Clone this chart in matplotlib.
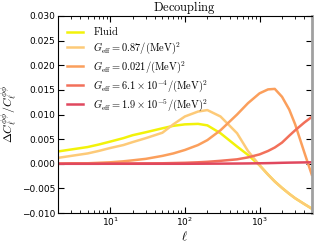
import matplotlib
matplotlib.use("Agg")
import matplotlib.pyplot as plt

plt.rcParams['mathtext.fontset'] = 'cm'

# === Data ===
ell = [2, 3, 5, 7, 10, 15, 20, 30, 50, 70, 100, 150, 200, 300, 500, 700,
       1000, 1300, 1600, 2000, 2500, 3000, 4000, 5000]

fluid = [0.0025, 0.0029, 0.0034, 0.0039, 0.0045, 0.0052, 0.0058, 0.0064, 0.0072, 0.0077,
         0.0080, 0.0081, 0.0078, 0.0062, 0.0035, 0.0018, -0.0003, -0.0022, -0.0036,
         -0.0049, -0.0061, -0.0070, -0.0082, -0.0091]
g_087 = [0.0012, 0.0016, 0.0021, 0.0026, 0.0032, 0.0038, 0.0044, 0.0052, 0.0063, 0.0080,
         0.0096, 0.0106, 0.0109, 0.0096, 0.0062, 0.0026, -0.0003, -0.0022, -0.0036,
         -0.0049, -0.0061, -0.0070, -0.0082, -0.0091]
g_0021 = [0.0000, 0.0001, 0.0001, 0.0002, 0.0003, 0.0005, 0.0007, 0.0010, 0.0016, 0.0021,
          0.0028, 0.0038, 0.0048, 0.0068, 0.0100, 0.0123, 0.0143, 0.0151, 0.0152,
          0.0136, 0.0110, 0.0080, 0.0022, -0.0022]
g_61e4 = [0.0, 0.0, 0.0, 0.0, 0.00003, 0.00005, 0.00006, 0.00008, 0.0001, 0.00015,
          0.0002, 0.0003, 0.0004, 0.0006, 0.0009, 0.0013, 0.0019, 0.0026, 0.0033,
          0.0043, 0.0057, 0.0068, 0.0084, 0.0095]
g_19e5 = [0.0, 0.0, 0.0, 0.0, 0.0, 0.0, 0.0, 0.0, 0.0, 0.0,
          0.0, 0.00001, 0.00002, 0.00003, 0.00005, 0.00007, 0.0001, 0.00013, 0.00016,
          0.0002, 0.00023, 0.00025, 0.00028, 0.0003]

labels = [r'$\mathrm{Fluid}$',
          r'$G_{\rm eff}=0.87/(\mathrm{MeV})^2$',
          r'$G_{\rm eff}=0.021/(\mathrm{MeV})^2$',
          r'$G_{\rm eff}=6.1\times10^{-4}/(\mathrm{MeV})^2$',
          r'$G_{\rm eff}=1.9\times10^{-5}/(\mathrm{MeV})^2$']
series = [fluid, g_087, g_0021, g_61e4, g_19e5]
colors = ['#f2f20a', '#fdca78', '#fb9f5c', '#f2705a', '#e0485e']

fig = plt.figure(figsize=(3.16, 2.46), dpi=100)
ax = fig.add_axes([0.1835, 0.134, 0.803, 0.801])

for vals, lab, c in zip(series, labels, colors):
    ax.plot(ell, vals, color=c, lw=1.8, label=lab)

ax.set_xscale('log')
ax.set_xlim(2, 5000)
ax.set_ylim(-0.010, 0.030)
ax.set_yticks([-0.010, -0.005, 0.0, 0.005, 0.010, 0.015, 0.020, 0.025, 0.030])
ax.set_yticklabels(['\u22120.010', '\u22120.005', '0.000', '0.005', '0.010',
                    '0.015', '0.020', '0.025', '0.030'])
ax.tick_params(which='both', direction='in', top=True, right=True, labelsize=6.5)
ax.tick_params(which='major', length=4, pad=2)
ax.tick_params(which='minor', length=2)
ax.spines['right'].set_color('#a0a0a0')
ax.spines['right'].set_linewidth(2)

ax.set_title(r'$\mathrm{Decoupling}$', fontsize=9, pad=2)
ax.set_xlabel(r'$\ell$', fontsize=9, labelpad=1)
ax.set_ylabel(r'$\Delta C_\ell^{\phi\phi}/C_\ell^{\phi\phi}$', fontsize=8.5)
ax.yaxis.set_label_coords(-0.155, 0.5)

ax.legend(loc='upper left', frameon=False, fontsize=7.5, handlelength=1.5,
          handletextpad=1.0, labelspacing=0.28, borderaxespad=0.5)

fig.savefig('out.png', dpi=100)
